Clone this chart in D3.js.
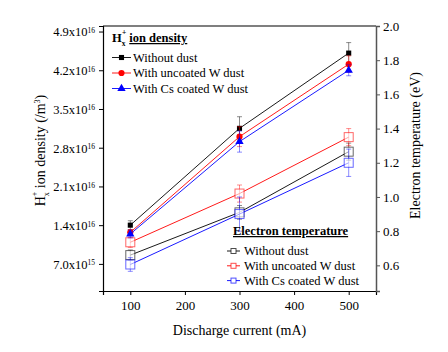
<!DOCTYPE html>
<head>
    <meta charset="utf-8">
    <script src="https://d3js.org/d3.v7.min.js"></script>
    <style>
        body { margin: 0; background: #fff; }
    </style>
</head>

<body>
    <div id="chart"></div>
</body>

<script>
    // data
    const currents = [100, 300, 500];
    const seriesNames = ["Without dust", "With uncoated W dust", "With Cs coated W dust"];
    const seriesColors = ["#000000", "#ff0000", "#0000ff"];

    // H_x+ ion density (/m3)
    const densWithout = [1.40e16, 3.15e16, 4.51e16];
    const densUncoated = [1.27e16, 3.00e16, 4.31e16];
    const densCs = [1.24e16, 2.91e16, 4.20e16];
    const densErrWithout = [0.08e16, 0.21e16, 0.19e16];
    const densErrUncoated = [0.05e16, 0.18e16, 0.15e16];
    const densErrCs = [0.07e16, 0.19e16, 0.10e16];

    // electron temperature (eV)
    const tempWithout = [0.66, 0.91, 1.265];
    const tempUncoated = [0.735, 1.02, 1.35];
    const tempCs = [0.605, 0.90, 1.20];
    const tempErrWithout = [0.03, 0.04, 0.05];
    const tempErrUncoated = [0.03, 0.05, 0.05];
    const tempErrCs = [0.04, 0.10, 0.08];

    // tick labels
    const xTicks = [100, 200, 300, 400, 500];
    const leftTicks = [7.0e15, 1.4e16, 2.1e16, 2.8e16, 3.5e16, 4.2e16, 4.9e16];
    const leftTickMantissa = ["7.0", "1.4", "2.1", "2.8", "3.5", "4.2", "4.9"];
    const leftTickExp = ["15", "16", "16", "16", "16", "16", "16"];
    const rightTicks = [0.6, 0.8, 1.0, 1.2, 1.4, 1.6, 1.8, 2.0];

    const W = 448, H = 352;
    const margin = {top: 26, right: 72, bottom: 61, left: 103};
    const width = W - margin.left - margin.right,
        height = H - margin.top - margin.bottom;
    const FONT = "Liberation Serif";

    const svg = d3.select("#chart").append("svg")
        .attr("width", W)
        .attr("height", H);
    const g = svg.append("g")
        .attr("transform", `translate(${margin.left},${margin.top})`);

    const x = d3.scaleLinear().domain([50, 550]).range([0, width]);
    const yL = d3.scaleLinear().domain([2.1e15, 5.0e16]).range([height, 0]);
    const yR = d3.scaleLinear().domain([0.45, 2.0]).range([height, 0]);

    // frame top line
    g.append("line")
        .attr("x1", 0).attr("x2", width).attr("y1", 0).attr("y2", 0)
        .attr("stroke", "#000").attr("stroke-width", 1.2);

    // X axis
    const xAxis = g.append("g")
        .attr("transform", `translate(0,${height})`)
        .call(d3.axisBottom(x).tickValues(xTicks).tickSizeOuter(0).tickSize(4).tickPadding(6));
    xAxis.attr("font-family", null).attr("font-size", null);
    xAxis.selectAll("text").attr("font-family", FONT).attr("font-size", 13);
    xAxis.select(".domain").attr("stroke-width", 1.2);

    // left axis
    const lAxis = g.append("g")
        .call(d3.axisLeft(yL).tickValues(leftTicks).tickSizeOuter(0).tickSize(4).tickFormat(""));
    lAxis.attr("font-family", null).attr("font-size", null);
    lAxis.select(".domain").attr("stroke-width", 1.2);
    lAxis.selectAll(".tick").each(function(d, i) {
        const t = d3.select(this).append("text")
            .attr("x", -8).attr("dy", "0.35em")
            .attr("text-anchor", "end")
            .attr("font-family", FONT)
            .attr("font-size", 12.5)
            .attr("fill", "#000");
        t.append("tspan").text(leftTickMantissa[i] + "x10");
        t.append("tspan").attr("dy", "-0.45em").attr("font-size", 7.5).text(leftTickExp[i]);
    });

    // right axis
    const rAxis = g.append("g")
        .attr("transform", `translate(${width},0)`)
        .call(d3.axisRight(yR).tickValues(rightTicks).tickSizeOuter(0).tickSize(4).tickPadding(3)
            .tickFormat(d3.format(".1f")));
    rAxis.attr("font-family", null).attr("font-size", null);
    rAxis.selectAll("text").attr("font-family", FONT).attr("font-size", 13);
    rAxis.select(".domain").attr("stroke", "#555").attr("stroke-width", 1.5);
    rAxis.selectAll("line").attr("stroke", "#555");

    // axis titles
    g.append("text")
        .attr("text-anchor", "middle")
        .attr("x", width / 2).attr("y", height + 44)
        .attr("font-family", FONT)
        .attr("font-size", 14)
        .text("Discharge current (mA)");

    const lt = g.append("text")
        .attr("text-anchor", "middle")
        .attr("transform", `translate(-58,${height / 2 - 8}) rotate(-90)`)
        .attr("font-family", FONT)
        .attr("font-size", 14);
    lt.append("tspan").text("H");
    lt.append("tspan").attr("dy", "4").attr("font-size", 8).text("x");
    lt.append("tspan").attr("dy", "-12").attr("dx", "-4").attr("font-size", 8).text("+");
    lt.append("tspan").attr("dy", "8").text(" ion density (/m");
    lt.append("tspan").attr("dy", "-5").attr("font-size", 8).text("3");
    lt.append("tspan").attr("dy", "5").text(")");

    g.append("text")
        .attr("text-anchor", "middle")
        .attr("transform", `translate(${width + 44},${height / 2 - 13}) rotate(-90)`)
        .attr("font-family", FONT)
        .attr("font-size", 14)
        .text("Electron temperature (eV)");

    const densSeries = [
        {vals: densWithout, err: densErrWithout},
        {vals: densUncoated, err: densErrUncoated},
        {vals: densCs, err: densErrCs}
    ];
    const tempSeries = [
        {vals: tempWithout, err: tempErrWithout},
        {vals: tempUncoated, err: tempErrUncoated},
        {vals: tempCs, err: tempErrCs}
    ];

    function drawSeries(series, y, filled) {
        series.forEach((s, k) => {
            const col = seriesColors[k];
            const pts = currents.map((c, i) => ({c, v: s.vals[i], e: s.err[i]}));
            // error bars
            pts.forEach(p => {
                const eg = g.append("g").attr("stroke", col).attr("stroke-opacity", 0.45).attr("stroke-width", 1);
                eg.append("line").attr("x1", x(p.c)).attr("x2", x(p.c))
                    .attr("y1", y(p.v - p.e)).attr("y2", y(p.v + p.e));
                [p.v - p.e, p.v + p.e].forEach(v => {
                    eg.append("line").attr("x1", x(p.c) - 2.5).attr("x2", x(p.c) + 2.5)
                        .attr("y1", y(v)).attr("y2", y(v));
                });
            });
            g.append("path")
                .datum(pts)
                .attr("fill", "none")
                .attr("stroke", col)
                .attr("stroke-width", 0.9)
                .attr("d", d3.line().x(d => x(d.c)).y(d => y(d.v)));
            pts.forEach(p => drawMarker(g, x(p.c), y(p.v), k, filled));
        });
    }

    function drawMarker(sel, cx, cy, k, filled) {
        const col = seriesColors[k];
        if (!filled) {
            sel.append("rect")
                .attr("x", cx - 4.5).attr("y", cy - 4.5)
                .attr("width", 9).attr("height", 9)
                .attr("fill", "#fff").attr("fill-opacity", 0.6)
                .attr("stroke", col).attr("stroke-opacity", 0.6).attr("stroke-width", 1);
            return;
        }
        const sym = [d3.symbolSquare, d3.symbolCircle, d3.symbolTriangle][k];
        const size = [26, 30, 30][k];
        sel.append("path")
            .attr("transform", `translate(${cx},${cy})`)
            .attr("d", d3.symbol().type(sym).size(size)())
            .attr("fill", col);
    }

    drawSeries(tempSeries, yR, false);
    drawSeries(densSeries, yL, true);

    // legend: ion density
    const lg1 = g.append("g").attr("transform", "translate(9,16)");
    const t1 = lg1.append("text").attr("font-family", FONT).attr("font-size", 12.5).attr("font-weight", "bold");
    t1.append("tspan").text("H");
    t1.append("tspan").attr("dy", "4").attr("font-size", 7.5).text("x");
    t1.append("tspan").attr("dy", "-11").attr("dx", "-3.5").attr("font-size", 7.5).text("+");
    t1.append("tspan").attr("dy", "7").attr("dx", "3").style("text-decoration", "underline").text("ion density");
    seriesNames.forEach((name, k) => {
        const yy = 15.5 + k * 15.5;
        lg1.append("line").attr("x1", 0).attr("x2", 19).attr("y1", yy).attr("y2", yy)
            .attr("stroke", seriesColors[k]).attr("stroke-width", 0.9);
        drawMarker(lg1, 9.5, yy, k, true);
        lg1.append("text").attr("x", 21).attr("y", yy).attr("dy", "0.35em")
            .attr("font-family", FONT).attr("font-size", 12.5).text(name);
    });

    // legend: electron temperature
    const lg2 = g.append("g").attr("transform", "translate(124,209)");
    lg2.append("text").attr("x", 6).attr("y", 0)
        .attr("font-family", FONT)
        .attr("font-size", 12.5).attr("font-weight", "bold")
        .style("text-decoration", "underline")
        .text("Electron temperature");
    seriesNames.forEach((name, k) => {
        const yy = 16 + k * 14.8;
        lg2.append("line").attr("x1", 0).attr("x2", 13).attr("y1", yy).attr("y2", yy)
            .attr("stroke", seriesColors[k]).attr("stroke-width", 0.9);
        lg2.append("rect").attr("x", 4).attr("y", yy - 2.5).attr("width", 5).attr("height", 5)
            .attr("fill", "#fff").attr("stroke", seriesColors[k]).attr("stroke-opacity", 0.7);
        lg2.append("text").attr("x", 17).attr("y", yy).attr("dy", "0.35em")
            .attr("font-family", FONT).attr("font-size", 12.5).text(name);
    });
</script>
</html>
